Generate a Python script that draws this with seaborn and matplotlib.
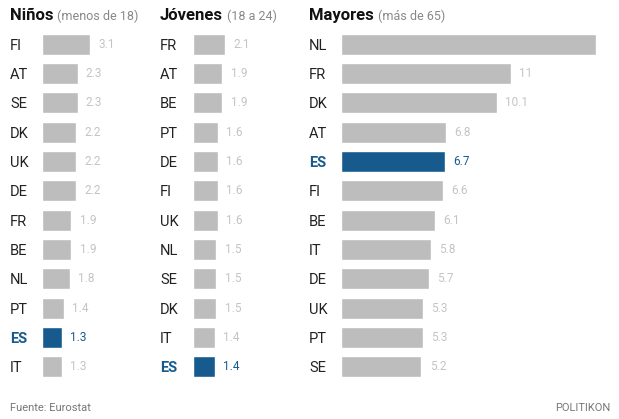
import matplotlib
matplotlib.use("Agg")
import matplotlib.pyplot as plt
import seaborn as sns
import pandas as pd

# Datos
ninos_paises = ["FI", "AT", "SE", "DK", "UK", "DE", "FR", "BE", "NL", "PT", "ES", "IT"]
ninos_valores = [3.1, 2.3, 2.3, 2.2, 2.2, 2.2, 1.9, 1.9, 1.8, 1.4, 1.3, 1.3]
jovenes_paises = ["FR", "AT", "BE", "PT", "DE", "FI", "UK", "NL", "SE", "DK", "IT", "ES"]
jovenes_valores = [2.1, 1.9, 1.9, 1.6, 1.6, 1.6, 1.6, 1.5, 1.5, 1.5, 1.4, 1.4]
mayores_paises = ["NL", "FR", "DK", "AT", "ES", "FI", "BE", "IT", "DE", "UK", "PT", "SE"]
mayores_valores = [16.5, 11, 10.1, 6.8, 6.7, 6.6, 6.1, 5.8, 5.7, 5.3, 5.3, 5.2]
mayores_etiquetas = ["", "11", "10.1", "6.8", "6.7", "6.6", "6.1", "5.8", "5.7", "5.3", "5.3", "5.2"]

titulos = ["Niños", "Jóvenes", "Mayores"]
subtitulos = ["(menos de 18)", "(18 a 24)", "(más de 65)"]

sns.set_style("white")
plt.rcParams["font.family"] = ["Roboto", "DejaVu Sans"]

GRIS = "#bdbdbd"
AZUL = "#175b8e"
GRIS_TXT = "#c4c4c4"

W, H = 619, 419
fig = plt.figure(figsize=(W / 100, H / 100), dpi=100)

escala = 15.45  # px por unidad
paneles = [
    (ninos_paises, ninos_valores, [f"{v:g}" for v in ninos_valores], 36, 150, 10),
    (jovenes_paises, jovenes_valores, [f"{v:g}" for v in jovenes_valores], 187, 300, 160),
    (mayores_paises, mayores_valores, mayores_etiquetas, 335, 612, 309),
]

top_px, bot_px = 29.5, 381.5
for i, (paises, valores, etiquetas, x0, x1, xtxt) in enumerate(paneles):
    ax = fig.add_axes([x0 / W, 1 - bot_px / H, (x1 - x0) / W, (bot_px - top_px) / H])
    df = pd.DataFrame({"pais": paises, "valor": valores})
    paleta = {p: (AZUL if p == "ES" else GRIS) for p in paises}
    sns.barplot(data=df, x="valor", y="pais", hue="pais", palette=paleta,
                legend=False, width=0.72, saturation=1, ax=ax)
    ax.set_xlim(-6 / escala, (x1 - x0 - 6) / escala)
    ax.set_ylim(len(paises) - 0.5, -0.5)
    ax.set_xlabel("")
    ax.set_ylabel("")
    ax.set_xticks([])
    sns.despine(ax=ax, left=True, bottom=True)
    ax.tick_params(axis="y", length=4, width=0.8, color="#e0e0e0",
                   pad=(x0 - xtxt) * 0.72 - 4, labelsize=10.5)
    for lab in ax.get_yticklabels():
        lab.set_horizontalalignment("left")
        if lab.get_text() == "ES":
            lab.set_color(AZUL)
            lab.set_fontweight("bold")
        else:
            lab.set_color("#222222")
    for cont, p, et in zip(ax.containers, paises, etiquetas):
        txts = ax.bar_label(cont, labels=[et], padding=6, fontsize=8.5)
        for t in txts:
            t.set_color(AZUL if p == "ES" else GRIS_TXT)

    t1 = fig.text(xtxt / W, 1 - 20 / H, titulos[i], fontsize=12,
                  fontweight="bold", color="#111111", va="baseline")
    fig.canvas.draw()
    bb = t1.get_window_extent()
    fig.text((bb.x1 + 4) / W, 1 - 20 / H, subtitulos[i], fontsize=9,
             color="#888888", va="baseline")

fig.text(10 / W, 1 - 411 / H, "Fuente: Eurostat", fontsize=8, color="#777777", va="baseline")
fig.text(610 / W, 1 - 411 / H, "POLITIKON", fontsize=8, color="#777777", va="baseline", ha="right")

fig.savefig("out.png", dpi=100)
